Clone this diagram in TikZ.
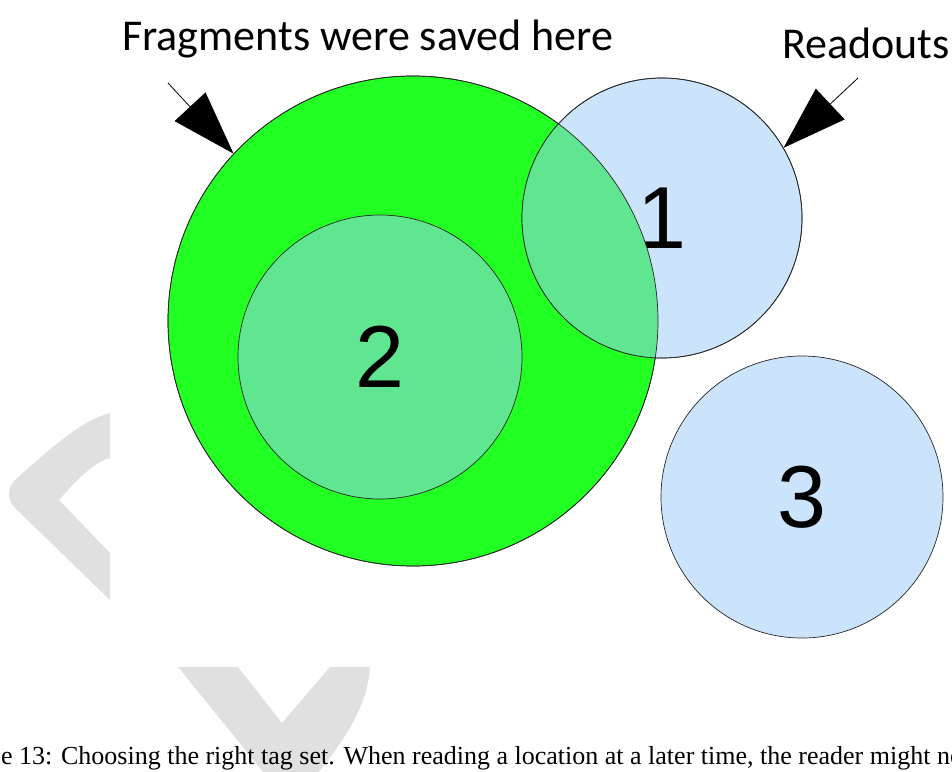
\documentclass[tikz,border=0pt]{standalone}
\usepackage{fontspec}
\usetikzlibrary{arrows.meta}
\newfontfamily\labelfont{Carlito}
\newfontfamily\digitfont{Liberation Sans}
\newfontfamily\captionfont{Liberation Serif}
\definecolor{setgreen}{HTML}{22FF22}
\definecolor{setblue}{HTML}{CCE4FB}
\definecolor{setmix}{HTML}{60E590}
\definecolor{markgrey}{HTML}{E0E0E0}

\begin{document}
\begin{tikzpicture}[x=1pt,y=-1pt,
  tagset/.style={circle,draw=black!85,line width=0.7pt,inner sep=0pt,
    font=\digitfont\fontsize{88}{88}\selectfont},
  rim/.style={draw=black!85,line width=0.7pt},
  callout/.style={font=\labelfont\fontsize{44}{44}\selectfont,inner sep=0pt,anchor=base west},
  pointer/.style={line width=0.8pt,-{Triangle[length=64pt,width=42pt]}}]
\useasboundingbox (0,0) rectangle (952,771);
\clip (0,0) rectangle (952,771);

% grey marks in the background
\fill[markgrey] (110,413) .. controls (85,420) and (65,435) .. (15,480)
  .. controls (7,488) and (7,500) .. (15,508) -- (110,600) -- (110,553)
  -- (59,500) .. controls (80,476) and (95,462) .. (110,458) -- cycle;
\fill[markgrey] (178,667) -- (238,667) -- (282,723) -- (330,667) -- (370,667)
  .. controls (368,705) and (345,745) .. (290,805) -- cycle;

% the tag sets
\node[tagset,fill=setgreen,minimum size=490pt] (saved) at (413,321) {};
\node[tagset,fill=setmix,minimum size=284pt] (two) at (380,357) {2};
\node[tagset,fill=setblue,minimum size=280pt] (one) at (662,218) {1};
\node[tagset,fill=setblue,minimum size=282pt] (three) at (802,497) {3};
\begin{scope}
  \clip (saved.center) circle[radius=245];
  \fill[setmix] (one.center) circle[radius=140];
\end{scope}
\draw[rim] (saved.center) circle[radius=245];
\draw[rim] (one.center) circle[radius=140];

% labels and pointers
\node[callout] (savedlabel) at (122,50) {Fragments were saved here};
\node[callout] (readlabel) at (782,58) {Readouts};
\coordinate (savedtail) at (168,83);
\coordinate (readtail) at (858,78);
\draw[pointer] (savedtail) -- (saved.137);
\draw[pointer] (readtail) -- (one.30);

\node[font=\captionfont\fontsize{26}{26}\selectfont,anchor=base west,inner sep=0pt]
  (caption) at (1,764) {e 13: Choosing the right tag set. When reading a location at a later time, the reader might no};
\end{tikzpicture}
\end{document}
